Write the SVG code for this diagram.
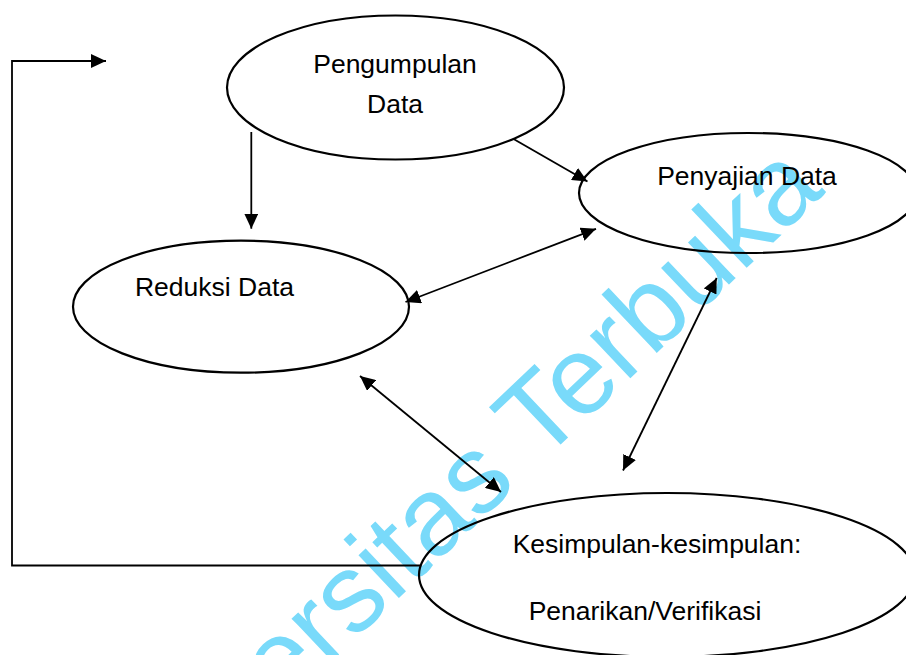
<svg xmlns="http://www.w3.org/2000/svg" width="906" height="655" viewBox="0 0 906 655">
<style>
.node ellipse{fill:none;stroke:#000;stroke-width:2.2}
.lbl{font-family:"Liberation Sans",Arial,sans-serif;font-size:26.5px;fill:#000;text-anchor:middle}
.conn{fill:none;stroke:#000;stroke-width:1.8}
.wm{font-family:"Liberation Sans",Arial,sans-serif;font-size:111px;fill:#79dafa}
</style>
<defs>
<marker id="ah" viewBox="0 0 15 14" refX="15" refY="7" markerWidth="15" markerHeight="14" markerUnits="userSpaceOnUse" orient="auto-start-reverse">
<path d="M0,0 L15,7 L0,14 Z" fill="#000"/>
</marker>
</defs>
<rect width="906" height="655" fill="#fff"/>
<text class="wm" transform="translate(120.6,861.9) rotate(-43.5)">Universitas Terbuka</text>
<g id="pengumpulan" class="node">
<ellipse cx="395.5" cy="87.5" rx="168.5" ry="72"/>
<text class="lbl" x="395" y="73">Pengumpulan</text>
<text class="lbl" x="395" y="113">Data</text>
</g>
<g id="reduksi" class="node">
<ellipse cx="241" cy="306.7" rx="168" ry="66"/>
<text class="lbl" x="214.5" y="296">Reduksi Data</text>
</g>
<g id="penyajian" class="node">
<ellipse cx="748" cy="193" rx="169" ry="60"/>
<text class="lbl" x="747" y="185">Penyajian Data</text>
</g>
<g id="kesimpulan" class="node">
<ellipse cx="667" cy="575" rx="248" ry="82"/>
<text class="lbl" x="657" y="552.5">Kesimpulan-kesimpulan:</text>
<text class="lbl" x="645" y="619.5">Penarikan/Verifikasi</text>
</g>
<g id="connectors">
<polyline class="conn" points="420,565.5 12,565.5 12,61 106,61" marker-end="url(#ah)"/>
<line class="conn" x1="251.3" y1="132" x2="251.3" y2="228.7" marker-end="url(#ah)"/>
<line class="conn" x1="514" y1="139.3" x2="587.5" y2="181.5" marker-end="url(#ah)"/>
<line class="conn" x1="405.5" y1="302" x2="596" y2="228.8" marker-start="url(#ah)" marker-end="url(#ah)"/>
<line class="conn" x1="360" y1="376" x2="501" y2="492" stroke-width="1.4" marker-start="url(#ah)" marker-end="url(#ah)"/>
<line class="conn" x1="716.7" y1="278" x2="623" y2="470.5" marker-start="url(#ah)" marker-end="url(#ah)"/>
</g>
</svg>
